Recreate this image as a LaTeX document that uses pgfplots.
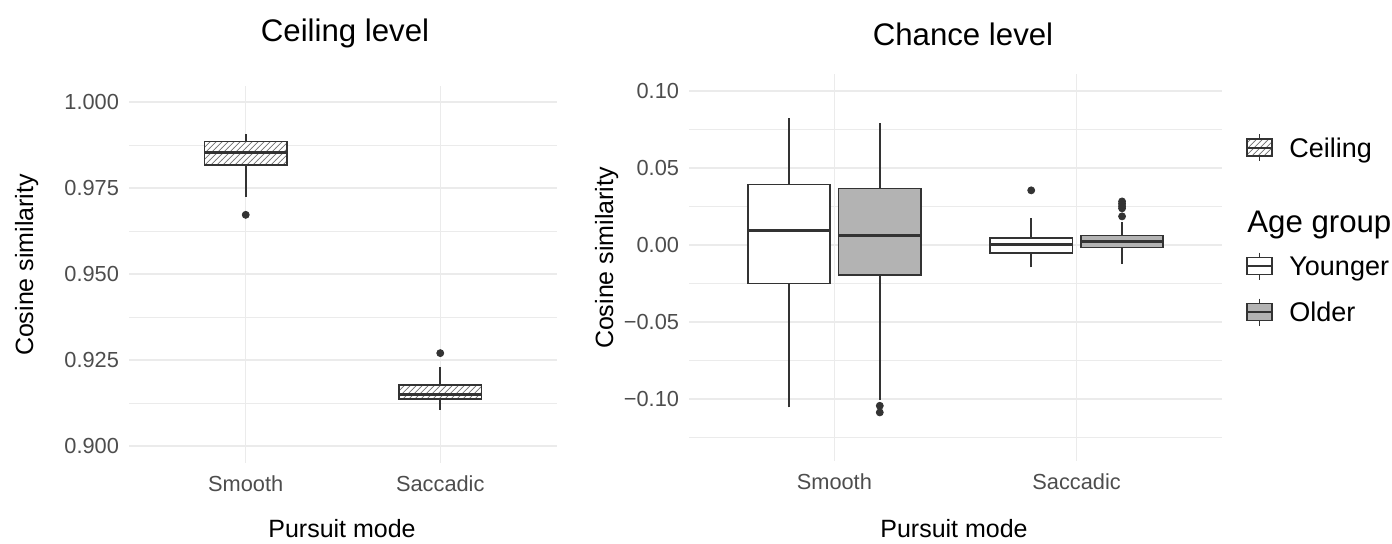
\documentclass[border=0pt]{standalone}
\usepackage{fontspec}
\setmainfont{Liberation Sans}
\usepackage{pgfplots}
\pgfplotsset{compat=1.18}
\usetikzlibrary{patterns}

\definecolor{ink}{HTML}{333333}
\definecolor{gridc}{HTML}{EBEBEB}
\definecolor{olderfill}{HTML}{B3B3B3}
\definecolor{ticktxt}{HTML}{4D4D4D}
\definecolor{hatch}{HTML}{707070}

\pgfplotsset{
  ggbase/.style={
    scale only axis,
    anchor=south west,
    xmin=0.4, xmax=2.6,
    xtick={1,2}, xticklabels={Smooth,Saccadic},
    axis line style={draw=none},
    tick style={draw=none},
    xmajorgrids, ymajorgrids, yminorgrids,
    major grid style={gridc, line width=0.65pt},
    minor grid style={gridc, line width=0.45pt},
    tick label style={font=\fontsize{10.9}{12}\selectfont, text=ticktxt},
    yticklabel style={anchor=east, inner sep=0pt, xshift=-4.8pt},
    xticklabel style={anchor=north, inner sep=0pt, yshift=-6.1pt},
    clip=false,
  },
  hatchbox/.style={draw=ink, preaction={fill=white},
      preaction={pattern=north east lines, pattern color=hatch}},
  whitebox/.style={draw=ink, fill=white},
  greybox/.style={draw=ink, fill=olderfill},
}

% one box: x, left, right, lower whisker, lower quartile, median, upper quartile, upper whisker, box style
\newcommand{\ggbox}[9]{%
  \addplot[ink, line width=0.8pt] coordinates {(#1,#4) (#1,#5)};
  \addplot[ink, line width=0.8pt] coordinates {(#1,#7) (#1,#8)};
  \addplot[#9, line width=0.8pt] coordinates {(#2,#5) (#3,#5) (#3,#7) (#2,#7)} -- cycle;
  \addplot[ink, line width=1.5pt] coordinates {(#2,#6) (#3,#6)};
}
\pgfplotsset{outl/.style={only marks, mark=*, mark size=1.75pt, ink, mark options={fill=ink}}}

\begin{document}
\begin{tikzpicture}
\begin{scope}[x=0.5pt, y=-0.5pt]
\useasboundingbox (0,0) rectangle (1392,540);
\end{scope}

% ---- left panel: ceiling level
\begin{axis}[ggbase,
    at={(64.5pt,-231.5pt)},
    width=214pt, height=188.5pt,
    ymin=0.89506, ymax=1.00465,
    ytick={0.900,0.925,0.950,0.975,1.000},
    yticklabels={0.900,0.925,0.950,0.975,1.000},
    minor ytick={0.9125,0.9375,0.9625,0.9875},
]
\ggbox{1}{0.7875}{1.2125}{0.9725}{0.9816}{0.9853}{0.9885}{0.9907}{hatchbox}
\addplot[outl] coordinates {(1,0.9672)};
\ggbox{2}{1.7875}{2.2125}{0.9105}{0.9136}{0.9149}{0.9177}{0.9229}{hatchbox}
\addplot[outl] coordinates {(2,0.9270)};
\end{axis}

% ---- right panel: chance level
\begin{axis}[ggbase,
    at={(344.5pt,-230.35pt)},
    width=266.5pt, height=193.35pt,
    ymin=-0.14006, ymax=0.11104,
    ytick={-0.10,-0.05,0,0.05,0.10},
    yticklabels={−0.10,−0.05,0.00,0.05,0.10},
    minor ytick={-0.125,-0.075,-0.025,0.025,0.075},
]
% Smooth
\ggbox{0.8125}{0.6425}{0.9825}{-0.1054}{-0.0250}{0.0092}{0.0394}{0.0824}{whitebox}
\ggbox{1.1875}{1.0175}{1.3575}{-0.1005}{-0.0194}{0.0065}{0.0368}{0.0791}{greybox}
\addplot[outl] coordinates {(1.1875,-0.1044) (1.1875,-0.1087)};
% Saccadic
\ggbox{1.8125}{1.6425}{1.9825}{-0.0146}{-0.0050}{0.0004}{0.0044}{0.0177}{whitebox}
\addplot[outl] coordinates {(1.8125,0.0355)};
\ggbox{2.1875}{2.0175}{2.3575}{-0.0124}{-0.0017}{0.0020}{0.0063}{0.0148}{greybox}
\addplot[outl] coordinates {(2.1875,0.0283) (2.1875,0.0268) (2.1875,0.0252) (2.1875,0.0238) (2.1875,0.0186)};
\end{axis}

\begin{scope}[x=0.5pt, y=-0.5pt]
% titles and axis titles
\node[anchor=base, font=\fontsize{15.6}{18}\selectfont] at (345,41.2) {Ceiling level};
\node[anchor=base, font=\fontsize{15.6}{18}\selectfont] at (963,45.7) {Chance level};
\node[anchor=base, font=\fontsize{12.5}{14}\selectfont] at (342,537) {Pursuit mode};
\node[anchor=base, font=\fontsize{12.5}{14}\selectfont] at (954,537) {Pursuit mode};
\node[anchor=base, rotate=90, font=\fontsize{12.5}{14}\selectfont] at (33,265) {Cosine similarity};
\node[anchor=base, rotate=90, font=\fontsize{12.5}{14}\selectfont] at (613,258) {Cosine similarity};

% legend
\begin{scope}[line width=0.6pt]
  \draw[ink] (1259.5,134) -- (1259.5,139) (1259.5,156) -- (1259.5,161);
  \draw[ink, preaction={fill=white}, preaction={pattern=north east lines, pattern color=hatch}]
    (1247,139) rectangle (1272,156);
  \draw[ink, line width=1pt] (1247,147.5) -- (1272,147.5);
  \draw[ink] (1259.5,252.5) -- (1259.5,257.5) (1259.5,274.5) -- (1259.5,279.5);
  \draw[ink, fill=white] (1247,257.5) rectangle (1272,274.5);
  \draw[ink, line width=1pt] (1247,266) -- (1272,266);
  \draw[ink] (1259.5,298.5) -- (1259.5,303.5) (1259.5,320.5) -- (1259.5,325.5);
  \draw[ink, fill=olderfill] (1247,303.5) rectangle (1272,320.5);
  \draw[ink, line width=1pt] (1247,312) -- (1272,312);
\end{scope}
\node[anchor=base west, inner sep=0pt, font=\fontsize{13.5}{16}\selectfont] at (1289,157.2) {Ceiling};
\node[anchor=base west, inner sep=0pt, font=\fontsize{15.6}{18}\selectfont] at (1247,232.2) {Age group};
\node[anchor=base west, inner sep=0pt, font=\fontsize{13.5}{16}\selectfont] at (1289,275.7) {Younger};
\node[anchor=base west, inner sep=0pt, font=\fontsize{13.5}{16}\selectfont] at (1289,321.7) {Older};
\end{scope}
\end{tikzpicture}
\end{document}
